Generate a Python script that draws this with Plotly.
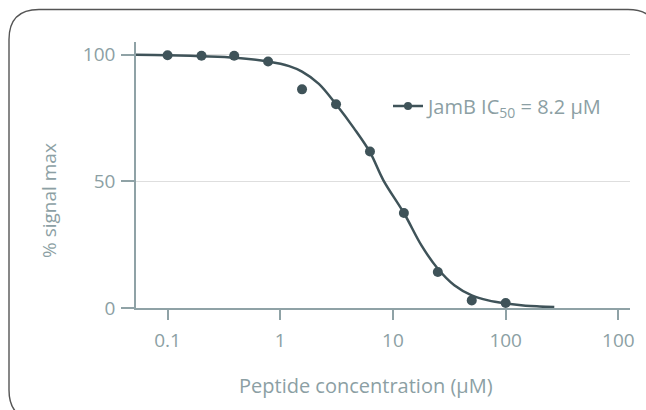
import plotly.graph_objects as go

# ---- data ----
conc = [0.1, 0.2, 0.39, 0.78, 1.56, 3.125, 6.25, 12.5, 25, 50, 100]
signal = [99.8, 99.6, 99.6, 97.3, 86.3, 80.4, 61.8, 37.5, 14.2, 3.0, 2.0]

fit_x = [0.052, 0.1, 0.2, 0.4, 0.78, 1.2, 1.56, 2.2, 3.125, 4.5, 6.25, 8.2,
         12.5, 18, 25, 35, 50, 70, 100, 150, 200, 270]
fit_y = [100, 99.8, 99.4, 98.8, 97.3, 95.5, 93.3, 88.5, 80.4, 71, 61.5, 50.5,
         37.5, 24.5, 15.5, 9, 5, 3, 1.8, 0.9, 0.6, 0.4]

x_tickvals = [0.1, 1, 10, 100, 1000]
x_ticktext = ["0.1", "1", "10", "100", "100"]
y_tickvals = [0, 50, 100]

legend_label = "JamB IC<sub>50</sub> = 8.2 µM"

# ---- styling ----
DARK = "#3f5359"
TXT = "#8c9fa4"
AX = "#8fa2a6"
FONT = "Open Sans"

W, H = 646, 410
L, R, T, B = 136, 16, 42, 102
PW, PH = W - L - R, H - T - B


def px(x):
    return (x - L) / PW


def py(y):
    return (H - B - y) / PH


def f(size=19):
    return dict(family=FONT, size=size, color=TXT)


fig = go.Figure()
fig.add_trace(go.Scatter(x=fit_x, y=fit_y, mode="lines",
                         line=dict(color=DARK, width=2.5, shape="spline", smoothing=1.0),
                         showlegend=False, hoverinfo="skip", cliponaxis=False))
fig.add_trace(go.Scatter(x=conc, y=signal, mode="markers",
                         marker=dict(color=DARK, size=10),
                         showlegend=False, cliponaxis=False))
fig.add_trace(go.Scatter(x=[None], y=[None], mode="lines+markers",
                         line=dict(color=DARK, width=2.5),
                         marker=dict(color=DARK, size=8),
                         name=legend_label, showlegend=True))

# rounded frame
x0, x1, y0, y1, r = 9, 658, 9.5, 420, 30
path = (f"M {px(x0)},{py(y0 + r)} Q {px(x0)},{py(y0)} {px(x0 + r)},{py(y0)} "
        f"L {px(x1 - r)},{py(y0)} Q {px(x1)},{py(y0)} {px(x1)},{py(y0 + r)} "
        f"L {px(x1)},{py(y1 - r)} Q {px(x1)},{py(y1)} {px(x1 - r)},{py(y1)} "
        f"L {px(x0 + r)},{py(y1)} Q {px(x0)},{py(y1)} {px(x0)},{py(y1 - r)} Z")

fig.update_layout(
    width=W, height=H,
    margin=dict(l=L, r=R, t=T, b=B, pad=0),
    paper_bgcolor="white", plot_bgcolor="white",
    font=f(),
    shapes=[dict(type="path", path=path, xref="paper", yref="paper",
                 line=dict(color="#555555", width=1.4), layer="above")],
    showlegend=True,
    legend=dict(x=px(388), y=py(106), xanchor="left", yanchor="middle",
                bgcolor="rgba(0,0,0,0)", itemwidth=30, font=f(20)),
    annotations=[
        dict(text="Peptide concentration (µM)", x=px(366), y=py(385),
             xref="paper", yref="paper", showarrow=False,
             xanchor="center", yanchor="middle", font=f(20)),
        dict(text="% signal max", x=px(49), y=py(201),
             xref="paper", yref="paper", showarrow=False, textangle=-90,
             xanchor="center", yanchor="middle", font=f(19)),
    ],
)

fig.update_xaxes(type="log", range=[-1.280, 3.103],
                 tickvals=x_tickvals, ticktext=x_ticktext,
                 showgrid=False, zeroline=False,
                 showline=True, linecolor=AX, linewidth=1.5,
                 ticks="outside", ticklen=10, tickwidth=1.5, tickcolor=AX,
                 ticklabelstandoff=4, tickfont=f())
fig.update_yaxes(range=[0, 105], tickvals=y_tickvals,
                 showgrid=True, gridcolor="#dedede", gridwidth=1,
                 zeroline=False,
                 showline=True, linecolor=AX, linewidth=1.5,
                 ticks="outside", ticklen=13, tickwidth=1.5, tickcolor=AX,
                 ticklabelstandoff=2, tickfont=f())

fig.write_html("out.html")
